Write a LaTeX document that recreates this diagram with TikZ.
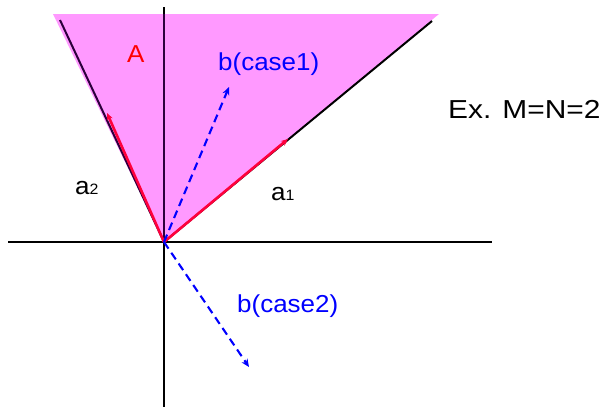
\documentclass[tikz,border=0pt]{standalone}
\usepackage{fontspec}
\setmainfont{Liberation Sans}
\newfontfamily\widefont[FakeStretch=1.06]{Liberation Sans}
\newfontfamily\widerfont[FakeStretch=1.15]{Liberation Sans}
\usetikzlibrary{arrows.meta}
\definecolor{conepink}{RGB}{255,153,255}
\definecolor{axpurple}{RGB}{45,0,60}
\definecolor{vecred}{RGB}{255,0,60}
\definecolor{bblue}{RGB}{0,0,255}
\tikzset{
  axis/.style={line width=2.2pt, black},
  inaxis/.style={line width=2.4pt, axpurple},
  edge/.style={line width=2pt, black},
  inedge/.style={line width=2pt, axpurple},
  avec/.style={line width=2.6pt, vecred, -{Stealth[length=7pt,width=6pt]}},
  bvec/.style={line width=2.1pt, bblue, dash pattern=on 8pt off 5pt, -{Stealth[length=8pt,width=7pt]}},
  lbl/.style={inner sep=0pt, anchor=base west},
}
\newcommand{\bigf}{\widefont\fontsize{24.5}{28}\selectfont}
\newcommand{\exf}{\widerfont\fontsize{26}{30}\selectfont}
\newcommand{\subf}{\fontsize{15}{18}\selectfont}
\begin{document}
\begin{tikzpicture}[x=1pt,y=-1pt]
\useasboundingbox (0,0) rectangle (602,407);
\coordinate (O) at (164,242);
\coordinate (xl) at (8,242);
\coordinate (xr) at (492,242);
\coordinate (yt) at (164,7);
\coordinate (yc) at (164,14);
\coordinate (yb) at (164,407);
\coordinate (L) at (60,20);
\coordinate (R) at (432,21);
\coordinate (a1) at (288,139);
\coordinate (a2) at (107,113);
\coordinate (b1) at (229,87);
\coordinate (b2) at (249,367);
% axes
\draw[axis] (xl) -- (xr);
\draw[axis] (yt) -- (yb);
% cone fill
\fill[conepink] (53,14) -- (439,14) -- (O) -- cycle;
% axis and left edge seen through the fill
\draw[inaxis] (yc) -- (O);
\draw[inedge] (L) -- (O);
\draw[edge] (R) -- (O);
% vectors
\draw[avec] (O) -- (a1);
\draw[avec] (O) -- (a2);
\draw[bvec] (O) -- (b1);
\draw[bvec] (O) -- (b2);
% labels
\node[lbl, text=red] (tA) at (127,62) {\bigf A};
\node[lbl, text=bblue] (tb1) at (218,70) {\bigf b(case1)};
\node[lbl, text=bblue] (tb2) at (237,312) {\bigf b(case2)};
\node[lbl] (tex) at (448,118) {\exf Ex. M=N=2};
\node[lbl] (ta2) at (75,194) {\bigf a\subf 2};
\node[lbl] (ta1) at (271,200) {\bigf a\subf 1};
\end{tikzpicture}
\end{document}
